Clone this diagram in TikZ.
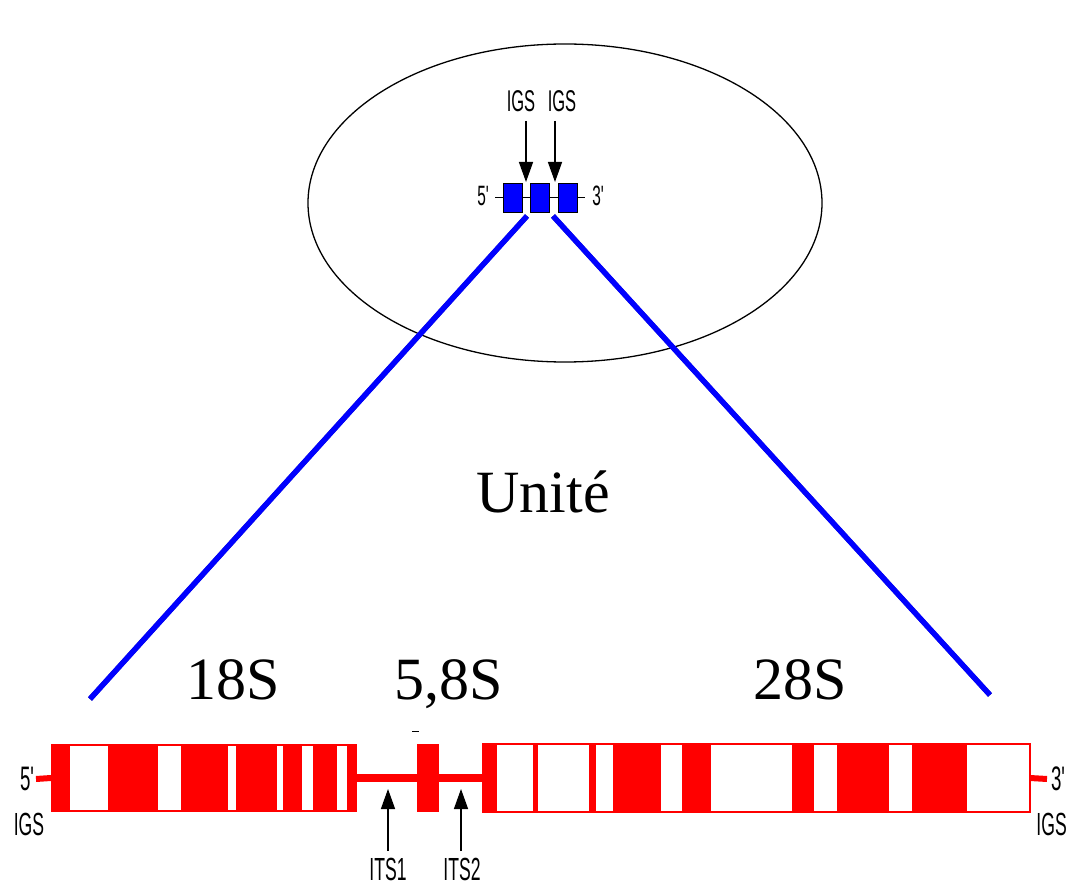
\documentclass[tikz,border=0pt]{standalone}
\usepackage{fontspec}
\setmainfont{Liberation Serif}
\newfontfamily\labelsans[FakeStretch=0.55]{Liberation Sans}
\usetikzlibrary{arrows.meta}

\begin{document}
\begin{tikzpicture}[x=1pt,y=-1pt,
  big/.style={font=\fontsize{60}{72}\selectfont, anchor=base, inner sep=0},
  small/.style={font=\labelsans\fontsize{#1}{#1}\selectfont, anchor=base, inner sep=0},
  small/.default=30,
  topbox/.style={draw=black, line width=0.8pt, fill=blue, minimum width=19pt, minimum height=29pt, inner sep=0},
  redblk/.style={fill=red, minimum height=68pt, inner sep=0, outer sep=0},
  gap/.style={fill=white},
  pointer/.style={line width=1.4pt, -{Triangle[width=14pt,length=20pt]}},
  zoomline/.style={blue, line width=5.5pt},
  zoomshadow/.style={black!80, line width=5pt},
]
\useasboundingbox (0,0) rectangle (1068,885);

% ---- enlarged view of the repeated units ----
\draw[line width=1.3pt] (565,203) ellipse [x radius=257pt, y radius=159pt];

\node[topbox] (b1) at (512.5,197.5) {};
\node[topbox] (b2) at (540,197.5) {};
\node[topbox] (b3) at (568,197.5) {};
\coordinate (tl) at (495,197.5);
\coordinate (tr) at (585,197.5);
\draw[line width=1pt] (tl) -- (b1.west) (b1.east) -- (b2.west) (b2.east) -- (b3.west) (b3.east) -- (tr);
\node[small=28] (t5) at (483,206) {5'};
\node[small=28] (t3) at (598,206) {3'};

\node[small=30] (igsA) at (521,112) {IGS};
\node[small=30] (igsB) at (562,112) {IGS};
\coordinate (gapA) at (526,182);
\coordinate (gapB) at (555,182);
\draw[pointer] (526,121) -- (gapA);
\draw[pointer] (555,121) -- (gapB);

% ---- zoom lines ----
\coordinate (zl1) at (527,216);
\coordinate (zl2) at (90,699);
\coordinate (zr1) at (553,216);
\coordinate (zr2) at (990,695);
\draw[zoomshadow, xshift=-1.5pt] (zl1) -- (zl2);
\draw[zoomshadow, xshift=-1.5pt] (zr1) -- (zr2);
\draw[zoomline] (zl1) -- (zl2);
\draw[zoomline] (zr1) -- (zr2);

\node[big] (unite) at (543,512) {Unité};
\node[big] (s18) at (233,699) {18S};
\node[big] (s58) at (449,699) {5,8S};
\node[big] (s28) at (800,699) {28S};
\draw[line width=1pt] (412,731) -- (419,731);

% ---- one transcription unit ----
\node[redblk, minimum width=306pt] (r18) at (204,778) {};
\node[redblk, minimum width=22pt] (r58) at (428,778) {};
\node[draw=red, line width=1.5pt, fill=white, minimum width=547pt, minimum height=68pt, inner sep=0, outer sep=0] (r28) at (756.5,778) {};

% spacers and flanks
\coordinate (left5) at (36,779);
\coordinate (right3) at (1047,779);
\draw[red, line width=6pt] (left5) -- (r18.west);
\draw[red, line width=6pt] (r28.east) -- (right3);
\draw[red, line width=8pt] (r18.east) -- (r58.west);
\draw[red, line width=8pt] (r58.east) -- (r28.west);

% white bands of the 18S block
\foreach \a/\b in {70/108,158/181,228/236,277/283,302/313,337/347}
  \fill[gap] (\a,746) rectangle (\b,810);

% red bands of the 28S block
\foreach \a/\b in {483/497,533/538,589/596,613/661,682/711,792/814,837/889,912/967}
  \fill[red] (\a,744) rectangle (\b,812);
\draw[red, line width=1.5pt] (r28.south west) rectangle (r28.north east);

\node[small=34] (b5) at (27,790) {5'};
\node[small=32] (bigsL) at (29,835) {IGS};
\node[small=34] (b3p) at (1058,790) {3'};
\node[small=32, anchor=base east] (bigsR) at (1067,835) {IGS};

\node[small=32] (its1) at (388,880) {ITS1};
\node[small=32] (its2) at (462,880) {ITS2};
\coordinate (its1tip) at (388,789);
\coordinate (its2tip) at (461,789);
\draw[pointer] (388,851) -- (its1tip);
\draw[pointer] (461,851) -- (its2tip);
\end{tikzpicture}
\end{document}
